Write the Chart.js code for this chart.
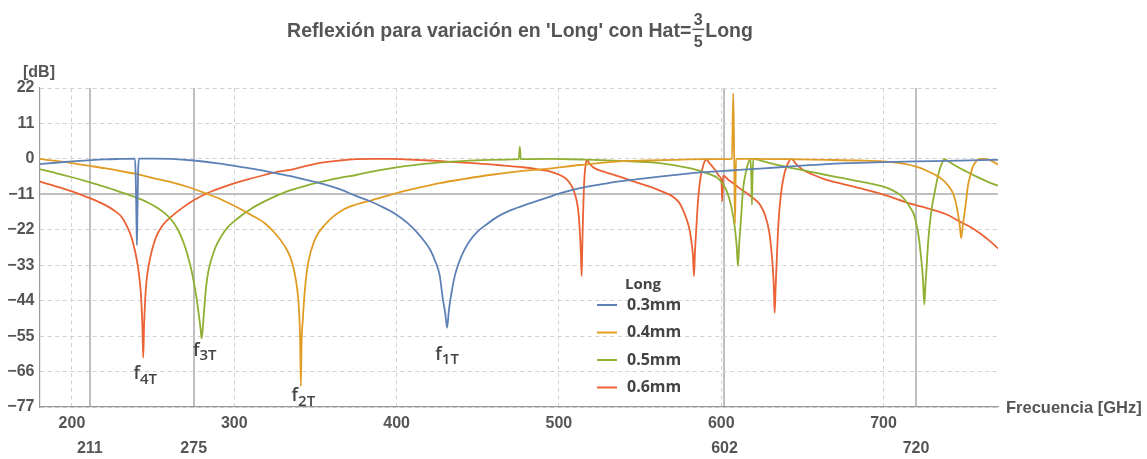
<!DOCTYPE html>
<html>
<head>
<meta charset="utf-8">
<script src="https://cdn.jsdelivr.net/npm/chart.js@4/dist/chart.umd.min.js"></script>
<style>
  html, body { margin: 0; padding: 0; background: #fff; }
  #wrap { width: 1147px; height: 459px; }
</style>
</head>
<body>
<div id="wrap"><canvas id="c" width="1147" height="459"></canvas></div>
<script>
// Reflection [dB] versus frequency [GHz] for four values of Long
const seriesLabels = ['0.3mm', '0.4mm', '0.5mm', '0.6mm'];

const freq03 = [180,190,200,210,220,230,238.8,239.3,239.7,240.0,240.3,240.7,241.2,250,261,275,290,300,312,323,334,345,355,365,375,383,390,400,407,412,417,421,424,426.5,428.5,430,431.1,432.2,434,436,438.5,441,445,450,455,462,470,482,494,500,513,525,537,550,562,575,587,600,611,624,636,650,665,680,700,720,740,760,771];
const db03 = [-1.65,-1.2,-0.8,-0.45,-0.15,0,0.1,-6,-18,-26.8,-18,-5,0.1,0.1,0,-0.5,-1.4,-2.2,-3.1,-4.2,-5.3,-6.6,-7.8,-9.4,-11.5,-13,-14.6,-17.3,-20,-22.5,-25.5,-28.5,-32,-36,-43.5,-48,-52.4,-47,-41,-36,-32,-29,-25.5,-22.5,-20.5,-18,-16,-13.8,-11.8,-10.8,-9.1,-8,-7,-6.2,-5.5,-4.8,-4.2,-3.8,-3.4,-3.0,-2.6,-2.1,-1.6,-1.3,-1.0,-0.8,-0.6,-0.4,-0.3];

const freq04 = [180,190,200,210,220,230,240.6,250,261,272,282,292,302,310,318.6,325,331,334.5,337,338.8,340,340.6,341,341.4,342.2,343.5,345.5,349.6,356.8,367,376,385.5,400,413,426.6,442,457.4,475,494,512.8,537,555,570,590,606.6,607.4,608,608.5,609.1,620,640,665,685,700,712,720,726.3,732,736.5,740,742.7,744.5,745.8,747,747.8,748.7,749.9,751,751.9,753.5,755,757,759,762,765,768,771];
const db04 = [0,-0.6,-1.3,-2.1,-2.9,-3.8,-4.8,-6,-7.2,-8.8,-10.6,-12.6,-15.1,-17.3,-19.9,-23,-27,-30.5,-35,-40.6,-48,-57,-70.5,-58,-50,-40.6,-32.3,-25.1,-19.9,-15.8,-14,-12.7,-10.6,-9,-7.5,-6.2,-5,-3.9,-3.0,-1.9,-0.8,-0.5,-0.3,-0.1,0,20.3,0,-20,0,0,-0.1,-0.3,-0.5,-0.8,-1.5,-2.4,-3.6,-5,-6.5,-8.4,-10.6,-13.5,-16.8,-21,-24.6,-21,-16.8,-12.5,-8.6,-5,-2.4,-0.8,-0.1,0,-0.3,-1,-1.9];

const freq05 = [180,190,200,210,220,230,240.6,247,253,257.5,261.2,264.5,267.3,270,272.5,274.2,275.5,277,278,279.2,279.9,280.6,281.3,282.7,284,285.8,288.5,291.9,296,302.2,310,318.6,328,334.2,345,354.8,365,375,387,400,413,426.6,442,457.4,475.3,475.9,476.5,494,515,537,562,580.5,590.8,599,603.1,606.2,608.3,609.5,610.3,611.1,612,613.4,615.5,617,618,618.5,618.9,619.3,619.8,621,625,630,636,644,655,664.7,675,685,692,700,705,710,713,716,718.5,720.1,721.5,722.6,723.6,724.3,725.1,725.7,726.3,727.3,728.3,729.8,731.4,733,734.5,736,737.6,739.5,741.7,746,750.9,756,762,767,771];
const db05 = [-3.2,-4.4,-5.7,-7.1,-8.6,-10.3,-12.2,-13.6,-15.3,-17,-18.9,-21.3,-24.1,-27.8,-32.3,-36,-39.5,-44,-47.8,-52.5,-55.7,-52.5,-47.8,-39.5,-35,-31.3,-27.3,-24.1,-21.2,-18.4,-15.6,-13.2,-11,-9.8,-8.2,-7.0,-5.9,-5.0,-3.7,-2.6,-1.8,-1.1,-0.6,-0.3,-0.1,3.8,-0.1,0,-0.2,-0.6,-1.3,-2.9,-4.4,-6.5,-9.6,-14.8,-21,-27,-33.3,-26,-19.9,-9.6,-3.4,-0.8,-0.1,-5,-14.2,-5,0,-0.1,-0.6,-1.3,-2.0,-2.9,-4,-5.0,-6,-7.0,-7.7,-8.6,-9.6,-11.1,-12.6,-14.8,-17,-19.9,-23.5,-28.2,-33,-37.5,-45.2,-40,-35.4,-27,-21,-15,-10.6,-6.5,-3.4,-1.3,-0.1,-0.6,-1.3,-2.6,-3.9,-5.2,-6.6,-7.7,-8.4];

const freq06 = [180,190,200,210,220,226,230.4,234,236.5,238.8,240.6,242,242.7,243.4,243.9,244.4,245.1,245.9,247.2,249.3,251.9,256,261.2,268,275.5,284,294,306,318.6,328,334.2,345,354.8,365,375.3,385,395.8,408,420.4,433,447,462,477.9,488,494.3,500.5,504,506.7,509,510.8,512,512.8,513.5,514,514.4,514.9,515.4,515.9,516.6,517.3,518.5,521,528,537.4,546,555.9,563,570.2,574,576.4,578.7,580.5,581.7,582.6,583.2,583.8,584.6,585.4,586.3,587.5,588.7,589.8,590.8,592.5,594.9,597,599,600.1,600.6,601.1,604,607.2,611,615.5,620,624,627,629.5,630.8,631.8,632.4,632.9,633.5,634.3,635,636,637.3,639,641,643.2,646,650.3,657,664.7,675,685.2,700,716,730.3,740,746.8,753,759.1,765,771];
const db06 = [-7.0,-8.5,-10.1,-12,-14.2,-16,-17.9,-21,-24.1,-28.5,-33.3,-39,-43.7,-52,-61.7,-52,-43.7,-38,-33.3,-28.3,-24.1,-20.5,-17.9,-15.2,-12.7,-10.5,-8.6,-6.7,-5.0,-3.9,-3.4,-2.1,-1.1,-0.5,-0.1,0,0,-0.2,-0.5,-0.9,-1.3,-1.9,-2.6,-3.3,-3.9,-5.0,-6,-7.5,-9.7,-12.7,-16.5,-22,-29,-36.4,-27,-16.8,-9,-4.4,-1.5,-0.3,-1.2,-2.6,-4,-5.5,-7,-8.6,-10,-11.7,-13.5,-15.8,-18.8,-22,-26,-30.2,-36.4,-29,-22,-15,-9.6,-5,-2.4,-0.8,-0.1,-1.2,-2.6,-4,-5.5,-6.5,-13.2,-5.2,-6.3,-7.5,-9,-10.6,-12.3,-14.3,-17.5,-22.5,-28,-34,-40,-47.8,-40,-30.2,-22,-14.8,-9,-4.4,-1.5,0,-1.5,-3.4,-5,-6.5,-7.8,-9.1,-11.1,-13.8,-15.8,-17.5,-19.4,-21,-23,-25.3,-28];

// Axis ticks
const xTicks = [200, 300, 400, 500, 600, 700];
const xMarks = [211, 275, 602, 720];
const yTicks = [22, 11, 0, -11, -22, -33, -44, -55, -66, -77];
const refLevel = -11;

const colors = ['#5E81B5', '#E19C24', '#8FB032', '#EB6235'];
const freqs = [freq03, freq04, freq05, freq06];
const levels = [db03, db04, db05, db06];

const TICK_FONT = { family: '"Liberation Sans", Arial, sans-serif', size: 16, weight: 'bold' };
const GRID_GREY = '#d2d2d2';
const REF_GREY = '#bfbfbf';

const datasets = seriesLabels.map((label, k) => ({
  label,
  data: freqs[k].map((f, i) => ({ x: f, y: levels[k][i] })),
  borderColor: colors[k],
  backgroundColor: colors[k],
  borderWidth: 1.8,
  pointRadius: 0,
  cubicInterpolationMode: 'monotone',
  borderJoinStyle: 'round',
  fill: false
}));

// Resonance tags under the dips
const dipTags = [
  { sub: '4T', series: 3, near: 243.9, dx: 2,   dy: 8 },
  { sub: '3T', series: 2, near: 279.9, dx: 3,   dy: 4 },
  { sub: '2T', series: 1, near: 341.0, dx: 2.5, dy: 1.5 },
  { sub: '1T', series: 0, near: 431.1, dx: 0,   dy: 18.5 }
];

const decorations = {
  id: 'decorations',
  afterDraw(chart) {
    const ctx = chart.ctx;
    const xs = chart.scales.x, ys = chart.scales.y;
    const area = chart.chartArea;
    ctx.save();

    // Title with stacked fraction
    const mainFont = 'bold 19.5px "Liberation Sans", Arial, sans-serif';
    const fracFont = 'bold 16px "Liberation Sans", Arial, sans-serif';
    const head = "Reflexión para variación en 'Long' con Hat=";
    const tail = 'Long';
    ctx.fillStyle = '#555';
    ctx.textBaseline = 'alphabetic';
    ctx.font = mainFont;
    const wHead = ctx.measureText(head).width;
    const wTail = ctx.measureText(tail).width;
    ctx.font = fracFont;
    const wDigit = Math.max(ctx.measureText('3').width, ctx.measureText('5').width);
    const wFrac = wDigit + 3;
    const total = wHead + 1 + wFrac + 1 + wTail;
    let tx = 520 - total / 2;
    const base = 37;
    ctx.font = mainFont;
    ctx.textAlign = 'left';
    ctx.fillText(head, tx, base);
    tx += wHead + 1;
    ctx.font = fracFont;
    ctx.textAlign = 'center';
    ctx.fillText('3', tx + wFrac / 2, 25);
    ctx.fillText('5', tx + wFrac / 2, 47);
    ctx.fillRect(tx, 28.6, wFrac, 1.5);
    tx += wFrac + 1;
    ctx.font = mainFont;
    ctx.textAlign = 'left';
    ctx.fillText(tail, tx, base);

    // Axis names
    ctx.font = 'bold 16px "Liberation Sans", Arial, sans-serif';
    ctx.textBaseline = 'middle';
    ctx.textAlign = 'left';
    ctx.fillText('[dB]', 23, 73);
    ctx.font = 'bold 16.5px "Liberation Sans", Arial, sans-serif';
    ctx.fillText('Frecuencia [GHz]', area.right + 8, area.bottom + 1);

    // Dip tags
    ctx.fillStyle = '#444';
    ctx.textBaseline = 'alphabetic';
    ctx.textAlign = 'left';
    dipTags.forEach(t => {
      const ds = chart.data.datasets[t.series].data;
      let best = null;
      ds.forEach(p => {
        if (Math.abs(p.x - t.near) <= 3 && (!best || p.y < best.y)) best = p;
      });
      if (!best) return;
      const px = xs.getPixelForValue(best.x) + t.dx;
      const py = ys.getPixelForValue(best.y) + t.dy;
      ctx.font = '600 18px "Open Sans", sans-serif';
      const wf = ctx.measureText('f').width;
      ctx.font = '600 15px "Open Sans", sans-serif';
      const ws = ctx.measureText(t.sub).width;
      const x0 = px - (wf + ws) / 2;
      const fb = py + 13.5;
      ctx.font = '600 18px "Open Sans", sans-serif';
      ctx.fillText('f', x0, fb);
      ctx.font = '600 15px "Open Sans", sans-serif';
      ctx.fillText(t.sub, x0 + wf, fb + 4.5);
    });

    // Legend
    ctx.fillStyle = '#444';
    ctx.textBaseline = 'middle';
    ctx.font = 'bold 15px "Open Sans", sans-serif';
    ctx.fillText('Long', 625, 285);
    ctx.font = 'bold 16px "Open Sans", sans-serif';
    chart.data.datasets.forEach((d, k) => {
      const y = 305 + k * 27.5;
      ctx.strokeStyle = d.borderColor;
      ctx.lineWidth = 2;
      ctx.beginPath();
      ctx.moveTo(597, y);
      ctx.lineTo(617, y);
      ctx.stroke();
      ctx.fillStyle = '#444';
      ctx.fillText(d.label, 627, y);
    });

    ctx.restore();
  }
};

new Chart(document.getElementById('c'), {
  type: 'line',
  data: { datasets },
  options: {
    responsive: false,
    animation: false,
    events: [],
    layout: { padding: { left: 0, top: 88, right: 149, bottom: 0 } },
    plugins: { legend: { display: false }, title: { display: false }, tooltip: { enabled: false } },
    scales: {
      x: {
        type: 'linear', position: 'bottom', weight: 0,
        min: 180, max: 770.5,
        afterBuildTicks: s => { s.ticks = xTicks.map(v => ({ value: v })); },
        afterFit: s => { s.height = 27; },
        grid: { color: GRID_GREY, lineWidth: 1, drawTicks: false },
        border: { display: true, color: '#9a9a9a', width: 1.2, dash: c => (c.type === 'tick' ? [4, 3.5] : []) },
        ticks: { color: '#555', font: TICK_FONT, padding: 6.5, maxRotation: 0, autoSkip: false }
      },
      x2: {
        type: 'linear', position: 'bottom', weight: 1,
        min: 180, max: 770.5,
        afterBuildTicks: s => { s.ticks = xMarks.map(v => ({ value: v })); },
        afterFit: s => { s.height = 25; },
        grid: { color: REF_GREY, lineWidth: 2, drawTicks: false },
        border: { display: false },
        ticks: { color: '#555', font: TICK_FONT, padding: 4.5, maxRotation: 0, autoSkip: false }
      },
      y: {
        type: 'linear', position: 'left',
        min: -77, max: 22,
        afterBuildTicks: s => { s.ticks = yTicks.map(v => ({ value: v })); },
        afterFit: s => { s.width = 39.5; },
        grid: {
          color: c => (c.tick && c.tick.value === refLevel ? REF_GREY : GRID_GREY),
          lineWidth: c => (c.tick && c.tick.value === refLevel ? 2 : 1),
          drawTicks: false
        },
        border: {
          display: true, color: '#9a9a9a', width: 1.2,
          dash: c => (c.type === 'tick' && c.tick.value !== refLevel ? [4, 3.5] : [])
        },
        ticks: {
          color: '#555', font: TICK_FONT, padding: 5, autoSkip: false,
          callback: v => String(v).replace('-', '\u2212')
        }
      }
    }
  },
  plugins: [decorations]
});
</script>
</body>
</html>
